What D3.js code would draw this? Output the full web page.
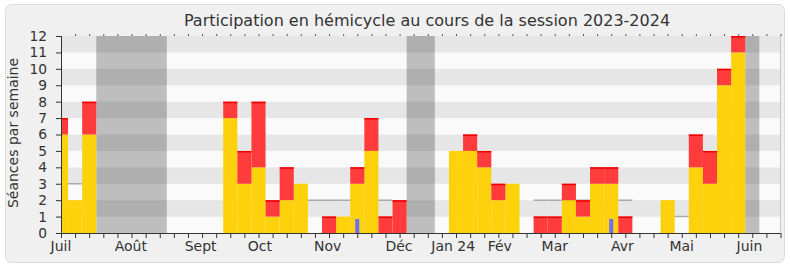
<!DOCTYPE html>
<html><head><meta charset="utf-8">
<script src="https://cdn.jsdelivr.net/npm/d3@7/dist/d3.min.js"></script>
<style>body{margin:0;background:#fff}svg{display:block}text{font-family:"DejaVu Sans",Verdana,sans-serif;fill:#333}</style>
</head><body>
<svg id="c" width="790" height="267"></svg>
<script>
// weekly data, week index 0..51
const present = [6,2,6,0,0,0,0,0,0,0,0,0,7,3,4,1,2,3,0,0,1,3,5,0,0,0,0,0,5,5,4,2,3,0,0,0,2,1,3,3,0,0,0,2,0,4,3,9,11,0,0,0];
const other   = [1,0,2,0,0,0,0,0,0,0,0,0,1,2,4,1,2,0,0,1,0,1,2,1,2,0,0,0,0,1,1,1,0,0,1,1,1,1,1,1,1,0,0,0,0,2,2,1,1,0,0,0];
const questions = [{week:21,value:0.85},{week:39,value:0.85}];
const median = [{week:1,value:3},{week:18,value:2},{week:19,value:2},{week:20,value:2},{week:21,value:2},{week:22,value:2},{week:23,value:2},
  {week:34,value:2},{week:35,value:2},{week:36,value:2},{week:37,value:2},{week:38,value:2},{week:39,value:2},{week:40,value:2},{week:44,value:1}];
const vacations = [[2.5,7.5],[24.5,26.5],[48.5,49.5]];
const monthLabels = ["Juil","Août","Sept","Oct","Nov","Déc","Jan 24","Fév","Mar","Avr","Mai","Juin"];
const monthWeeks  = [0,4.95,9.9,14.1,18.9,23.96,27.8,31.1,35.0,39.8,44.0,48.8];
const yTicks = d3.range(0,13);
const title = "Participation en hémicycle au cours de la session 2023-2024";
const yTitle = "Séances par semaine";

const svg = d3.select("#c");
const L=61, R=780.5, T=36, B=233;
const x = d3.scaleLinear().domain([0,51]).range([L,R]);
const y = d3.scaleLinear().domain([0,12]).range([B,T]);

svg.append("rect").attr("x",5.5).attr("y",4.5).attr("width",779).attr("height",258).attr("rx",6)
  .attr("fill","#f0f0f0").attr("stroke","#dcdcdc");

svg.append("text").attr("x",427).attr("y",26).attr("text-anchor","middle").style("font-size","16px").text(title);

svg.append("clipPath").attr("id","clip").append("rect").attr("x",L).attr("y",T).attr("width",R-L).attr("height",B-T);
const plot = svg.append("g").attr("clip-path","url(#clip)");

// bands
plot.selectAll(".band").data(d3.range(12)).join("rect")
  .attr("x",L).attr("width",R-L).attr("y",d=>y(d+1)).attr("height",d=>y(d)-y(d+1))
  .attr("fill",d=>d%2?"#e6e6e6":"#fafafa");

// reference line
plot.selectAll(".med").data(median).join("line")
  .attr("x1",d=>x(d.week-0.5)).attr("x2",d=>x(d.week+0.5))
  .attr("y1",d=>y(d.value)).attr("y2",d=>y(d.value))
  .attr("stroke","#aaaaaa").attr("stroke-width",1.5);

// vacations
plot.selectAll(".vac").data(vacations).join("rect")
  .attr("x",d=>x(d[0])).attr("width",d=>x(d[1])-x(d[0])).attr("y",T).attr("height",B-T)
  .attr("fill","#000").attr("fill-opacity",0.24);

const weeks = d3.range(present.length);
plot.selectAll(".yel").data(weeks.filter(k=>present[k]>0)).join("rect")
  .attr("x",k=>x(k-0.5)).attr("width",k=>x(k+0.5)-x(k-0.5))
  .attr("y",k=>y(present[k])).attr("height",k=>y(0)-y(present[k]))
  .attr("fill","#fdd10b");
plot.selectAll(".red").data(weeks.filter(k=>other[k]>0)).join("rect")
  .attr("x",k=>x(k-0.5)).attr("width",k=>x(k+0.5)-x(k-0.5))
  .attr("y",k=>y(present[k]+other[k])).attr("height",k=>y(present[k])-y(present[k]+other[k]))
  .attr("fill","#ff3b3b");
plot.selectAll(".redtop").data(weeks.filter(k=>other[k]>0)).join("line")
  .attr("x1",k=>x(k-0.5)).attr("x2",k=>x(k+0.5))
  .attr("y1",k=>y(present[k]+other[k])+0.75).attr("y2",k=>y(present[k]+other[k])+0.75)
  .attr("stroke","#ee0000").attr("stroke-width",1.5);
plot.selectAll(".blue").data(questions).join("rect")
  .attr("x",d=>x(d.week-0.14)).attr("width",d=>x(d.week+0.14)-x(d.week-0.14))
  .attr("y",d=>y(d.value)).attr("height",d=>y(0)-y(d.value))
  .attr("fill","#6b6bff");

// right border
svg.append("line").attr("x1",R).attr("x2",R).attr("y1",T).attr("y2",B).attr("stroke","#c8c8c8");

// axes
const xa = svg.append("g").attr("transform",`translate(0,${B})`)
  .call(d3.axisBottom(x).tickValues(d3.range(0,52)).tickSize(5).tickFormat(""));
xa.select(".domain").attr("stroke","#333").attr("d",`M${L},0.5H${R}`);
xa.selectAll(".tick line").attr("stroke","#333");
const xt = svg.append("g").attr("transform",`translate(0,${T})`)
  .call(d3.axisTop(x).tickValues(d3.range(1,52)).tickSize(2).tickFormat(""));
xt.select(".domain").remove();
xt.selectAll(".tick line").attr("stroke","#555");

svg.selectAll(".mlab").data(monthLabels).join("text")
  .attr("x",(d,i)=>x(monthWeeks[i])).attr("y",251).attr("text-anchor","middle")
  .style("font-size","14px").text(d=>d);

const ya = svg.append("g").attr("transform",`translate(${L},0)`)
  .call(d3.axisLeft(y).tickValues(yTicks).tickSize(5).tickPadding(9));
ya.select(".domain").attr("stroke","#333").attr("d",`M0.5,${T}V${B}`);
ya.selectAll(".tick line").attr("stroke","#333");
ya.selectAll(".tick text").style("font-size","13.8px").attr("font-family",null).style("fill","#333");

svg.append("text").attr("transform","translate(18,133) rotate(-90)").attr("text-anchor","middle")
  .style("font-size","14px").text(yTitle);
</script>
</body></html>
